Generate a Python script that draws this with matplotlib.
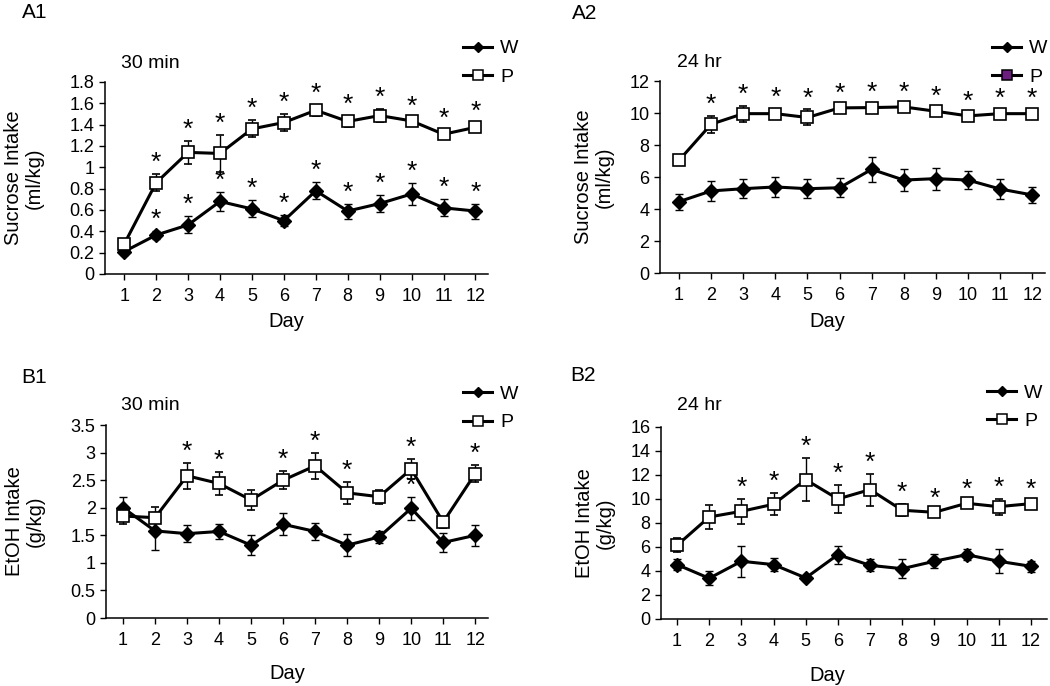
import matplotlib
matplotlib.use("Agg")
import matplotlib.pyplot as plt
from matplotlib.lines import Line2D

plt.rcParams['font.family'] = ['Liberation Sans', 'DejaVu Sans']

################################################################
days = list(range(1, 13))
day_labels = [str(d) for d in days]

# A1: sucrose, 30 min (ml/kg)
a1_w = [0.21, 0.365, 0.46, 0.68, 0.61, 0.50, 0.78, 0.59, 0.66, 0.75, 0.62, 0.59]
a1_w_err = [0.03, 0.04, 0.08, 0.09, 0.08, 0.05, 0.08, 0.07, 0.08, 0.10, 0.08, 0.07]
a1_p = [0.28, 0.855, 1.14, 1.13, 1.36, 1.42, 1.535, 1.43, 1.485, 1.435, 1.31, 1.375]
a1_p_err = [0.03, 0.08, 0.11, 0.17, 0.08, 0.08, 0.05, 0.05, 0.06, 0.03, 0.04, 0.04]
a1_w_stars = [2, 3, 4, 5, 6, 7, 8, 9, 10, 11, 12]
a1_p_stars = [2, 3, 4, 5, 6, 7, 8, 9, 10, 11, 12]
a1_yticks = [0, 0.2, 0.4, 0.6, 0.8, 1, 1.2, 1.4, 1.6, 1.8]

# A2: sucrose, 24 hr (ml/kg)
a2_w = [4.46, 5.13, 5.27, 5.38, 5.27, 5.33, 6.48, 5.81, 5.90, 5.81, 5.25, 4.88]
a2_w_err = [0.5, 0.6, 0.6, 0.6, 0.6, 0.6, 0.8, 0.67, 0.68, 0.56, 0.6, 0.5]
a2_p = [7.04, 9.30, 9.96, 9.96, 9.72, 10.32, 10.34, 10.38, 10.11, 9.82, 9.96, 9.96]
a2_p_err = [0.3, 0.54, 0.5, 0.3, 0.5, 0.2, 0.25, 0.2, 0.2, 0.2, 0.2, 0.2]
a2_w_stars = []
a2_p_stars = [2, 3, 4, 5, 6, 7, 8, 9, 10, 11, 12]
a2_yticks = [0, 2, 4, 6, 8, 10, 12]

# B1: EtOH, 30 min (g/kg)
b1_w = [2.00, 1.58, 1.53, 1.57, 1.32, 1.70, 1.57, 1.32, 1.47, 1.99, 1.37, 1.50]
b1_w_err = [0.2, 0.35, 0.16, 0.13, 0.18, 0.2, 0.15, 0.2, 0.11, 0.21, 0.17, 0.19]
b1_p = [1.85, 1.82, 2.58, 2.44, 2.14, 2.50, 2.76, 2.27, 2.20, 2.70, 1.74, 2.62]
b1_p_err = [0.15, 0.2, 0.24, 0.2, 0.18, 0.16, 0.23, 0.2, 0.13, 0.18, 0.1, 0.15]
b1_w_stars = [10]
b1_p_stars = [3, 4, 6, 7, 8, 10, 12]
b1_yticks = [0, 0.5, 1, 1.5, 2, 2.5, 3, 3.5]

# B2: EtOH, 24 hr (g/kg)
b2_w = [4.53, 3.39, 4.81, 4.53, 3.42, 5.36, 4.47, 4.19, 4.81, 5.36, 4.81, 4.39]
b2_w_err = [0.47, 0.58, 1.3, 0.55, 0.2, 0.75, 0.5, 0.8, 0.6, 0.47, 1.0, 0.47]
b2_p = [6.14, 8.5, 8.97, 9.56, 11.61, 10.0, 10.78, 9.06, 8.89, 9.64, 9.36, 9.61]
b2_p_err = [0.6, 1.0, 1.06, 0.9, 1.8, 1.2, 1.33, 0.5, 0.2, 0.2, 0.67, 0.2]
b2_w_stars = []
b2_p_stars = [3, 4, 5, 6, 7, 8, 9, 10, 11, 12]
b2_yticks = [0, 2, 4, 6, 8, 10, 12, 14, 16]
################################################################

fig = plt.figure(figsize=(10.5, 6.86), dpi=100)


def draw_panel(rect, xlim, w, w_err, p, p_err, w_stars, p_stars, yticks,
               ylabel, period, letter, letter_pos, period_pos, leg_pos,
               ylab_x, xlab_xy, p_legend_face='white'):
    ax = fig.add_axes(rect)
    ax.errorbar(days, w, yerr=w_err, fmt='-D', color='k', ms=7, lw=2.2,
                elinewidth=1, capsize=3, capthick=1, zorder=3)
    ax.errorbar(days, p, yerr=p_err, fmt='-s', color='k', mfc='white',
                mec='k', mew=1.2, ms=9, lw=2.2, elinewidth=1, capsize=3,
                capthick=1, zorder=4)
    # significance stars sit just above the upper error cap
    for d in w_stars:
        i = days.index(d)
        ax.annotate('*', (d, w[i] + w_err[i]), xytext=(0, 8),
                    textcoords='offset points', ha='center', va='center',
                    fontsize=19)
    for d in p_stars:
        i = days.index(d)
        ax.annotate('*', (d, p[i] + p_err[i]), xytext=(0, 8),
                    textcoords='offset points', ha='center', va='center',
                    fontsize=19)
    ax.set_xlim(*xlim)
    ax.set_ylim(0, yticks[-1])
    ax.set_yticks(yticks)
    ax.set_yticklabels(['{:g}'.format(t) for t in yticks])
    ax.set_xticks(days)
    ax.set_xticklabels(day_labels)
    for s in ['top', 'right']:
        ax.spines[s].set_visible(False)
    for s in ['left', 'bottom']:
        ax.spines[s].set_linewidth(1.1)
    ax.tick_params(axis='both', labelsize=13, length=4, width=1)
    ax.tick_params(axis='x', pad=6)
    ax.set_ylabel(ylabel, fontsize=14.5, linespacing=1.1)
    ax.yaxis.set_label_coords(ylab_x, 0.5)
    ax.set_xlabel('Day', fontsize=14.5)
    ax.xaxis.set_label_coords(*xlab_xy)
    fig.text(letter_pos[0], letter_pos[1], letter, fontsize=15,
             ha='left', va='center')
    fig.text(period_pos[0], period_pos[1], period, fontsize=14,
             ha='left', va='center')
    handles = [
        Line2D([], [], color='k', lw=2.2, marker='D', ms=5),
        Line2D([], [], color='k', lw=2.2, marker='s', ms=6.5,
               mfc=p_legend_face, mec='k', mew=1.1),
    ]
    ax.legend(handles, ['W', 'P'], loc='upper left', bbox_to_anchor=leg_pos,
              bbox_transform=fig.transFigure, frameon=False, fontsize=14,
              handlelength=1.5, handletextpad=0.4, labelspacing=0.55,
              borderpad=0, borderaxespad=0)
    return ax


draw_panel([0.100, 0.6006, 0.365, 0.2799], (0.4, 12.4), a1_w, a1_w_err,
           a1_p, a1_p_err, a1_w_stars, a1_p_stars, a1_yticks,
           'Sucrose Intake\n(ml/kg)', '30 min', 'A1', (0.021, 0.982),
           (0.115, 0.908), (0.441, 0.942), -0.16, (0.473, -0.2))

draw_panel([0.6286, 0.602, 0.3667, 0.2799], (0.41, 12.4), a2_w, a2_w_err,
           a2_p, a2_p_err, a2_w_stars, a2_p_stars, a2_yticks,
           'Sucrose Intake\n(ml/kg)', '24 hr', 'A2', (0.545, 0.981),
           (0.645, 0.909), (0.945, 0.942), -0.12, (0.434, -0.205),
           p_legend_face='#6B1E7E')

draw_panel([0.101, 0.0991, 0.3638, 0.2813], (0.47, 12.4), b1_w, b1_w_err,
           b1_p, b1_p_err, b1_w_stars, b1_p_stars, b1_yticks,
           'EtOH Intake\n(g/kg)', '30 min', 'B1', (0.02, 0.45),
           (0.115, 0.409), (0.441, 0.438), -0.16, (0.475, -0.24))

draw_panel([0.6295, 0.0977, 0.3676, 0.2799], (0.5, 12.5), b2_w, b2_w_err,
           b2_p, b2_p_err, b2_w_stars, b2_p_stars, b2_yticks,
           'EtOH Intake\n(g/kg)', '24 hr', 'B2', (0.543, 0.452),
           (0.645, 0.409), (0.94, 0.44), -0.12, (0.431, -0.245))

fig.savefig('out.png', dpi=100)
